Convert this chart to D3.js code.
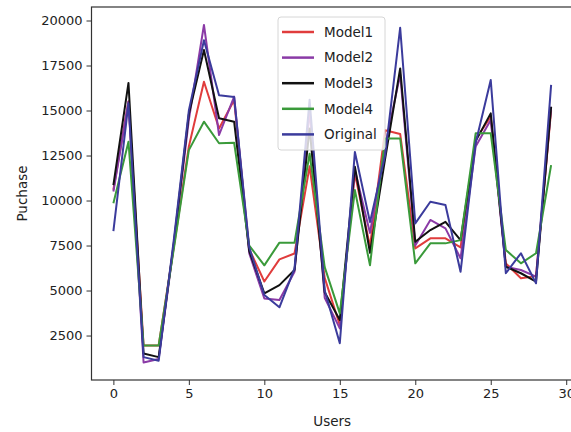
<!DOCTYPE html>
<html>
<head>
<meta charset="utf-8">
<script src="https://cdn.jsdelivr.net/npm/d3@7"></script>
<style>
  body { margin: 0; background: #fff; }
  #chart-container text { font-family: "DejaVu Sans", sans-serif; fill: #222; }
</style>
</head>
<body>
<div id="chart-container"></div>
<script>
// users on the x axis
const users = d3.range(0, 30);

const model1 = [10600, 15500, 1950, 1950, 7400, 13000, 16600, 14000, 15580, 7300,
  5500, 6730, 7060, 11900, 5700, 3080, 11500, 7450, 13900, 13700,
  7340, 7900, 7900, 7400, 13400, 14650, 6510, 5680, 5800, 15000];
const model2 = [10500, 15500, 1000, 1200, 7500, 14500, 19750, 13640, 15770, 7070,
  4560, 4470, 6040, 15000, 4600, 2900, 11700, 8200, 13000, 17000,
  7500, 8920, 8450, 6790, 13000, 14470, 6320, 6140, 5770, 15200];
const model3 = [10850, 16530, 1500, 1300, 7600, 14800, 18360, 14570, 14380, 7200,
  4840, 5300, 6140, 14000, 4900, 3360, 11880, 7100, 12300, 17340,
  7710, 8360, 8820, 7800, 13300, 14840, 6320, 5960, 5500, 15210];
const model4 = [9850, 13270, 1950, 1950, 7300, 12800, 14380, 13180, 13210, 7500,
  6400, 7660, 7660, 12600, 6300, 3730, 10580, 6400, 13450, 13450,
  6510, 7620, 7620, 7800, 13730, 13730, 7250, 6510, 7070, 11970];
const original = [8300, 15400, 1300, 1100, 7800, 15000, 18900, 15850, 15750, 7400,
  4750, 4070, 6230, 15600, 5000, 2070, 12700, 8800, 12500, 19600,
  8730, 9930, 9750, 6040, 13200, 16690, 5960, 7070, 5400, 16420];

const seriesNames = ['Model1', 'Model2', 'Model3', 'Model4', 'Original'];
const seriesColors = ['#e03c3c', '#8a3aa6', '#111111', '#3a9a3a', '#3b3b9c'];
const xTicks = [0, 5, 10, 15, 20, 25, 30];
const yTicks = [2500, 5000, 7500, 10000, 12500, 15000, 17500, 20000];

document.addEventListener('DOMContentLoaded', function() {
  drawLineChart();
});

function drawLineChart() {
  const margin = { top: 7, right: -2, bottom: 52, left: 91.5 };
  const width = 571 - margin.left - margin.right;
  const height = 432 - margin.top - margin.bottom;

  const series = [model1, model2, model3, model4, original];

  const svg = d3.select('#chart-container')
    .append('svg')
    .attr('width', 571)
    .attr('height', 432)
    .append('g')
    .attr('transform', `translate(${margin.left},${margin.top})`);

  const xScale = d3.scaleLinear()
    .domain([-1.45, 30.45])
    .range([0, width]);

  const yScale = d3.scaleLinear()
    .domain([30, 20750])
    .range([height, 0]);

  const line = d3.line()
    .x((d, i) => xScale(users[i]))
    .y(d => yScale(d));

  svg.selectAll('.series')
    .data(series)
    .enter().append('path')
    .attr('class', 'series')
    .attr('fill', 'none')
    .attr('stroke', (d, i) => seriesColors[i])
    .attr('stroke-width', 2)
    .attr('stroke-linejoin', 'round')
    .attr('d', line);

  const xAxis = svg.append('g')
    .attr('class', 'x-axis')
    .attr('transform', `translate(0,${height})`)
    .call(d3.axisBottom(xScale).tickValues(xTicks).tickSize(5).tickPadding(4));

  const yAxis = svg.append('g')
    .attr('class', 'y-axis')
    .call(d3.axisLeft(yScale).tickValues(yTicks).tickFormat(d3.format('d')).tickSize(5).tickPadding(4));

  [xAxis, yAxis].forEach(g => {
    g.select('.domain').remove();
    g.selectAll('line').attr('stroke', '#333');
    g.selectAll('text').style('font-size', '13px');
  });

  // frame
  svg.append('rect')
    .attr('width', width)
    .attr('height', height)
    .attr('fill', 'none')
    .attr('stroke', '#333')
    .attr('stroke-width', 1.2);

  svg.append('text')
    .attr('class', 'x-axis-label')
    .attr('x', xScale(14.5))
    .attr('y', height + 46)
    .style('text-anchor', 'middle')
    .style('font-size', '13.5px')
    .text('Users');

  svg.append('text')
    .attr('class', 'y-axis-label')
    .attr('transform', 'rotate(-90)')
    .attr('x', -height / 2)
    .attr('y', -margin.left + 27)
    .style('text-anchor', 'middle')
    .style('font-size', '13.5px')
    .text('Puchase');

  // legend
  const legend = svg.append('g')
    .attr('transform', `translate(${278 - margin.left},${17 - margin.top})`);

  legend.append('rect')
    .attr('width', 107)
    .attr('height', 133)
    .attr('rx', 3)
    .attr('fill', 'rgba(255,255,255,0.8)')
    .attr('stroke', '#d6d6d6');

  const items = legend.selectAll('.legend-item')
    .data(seriesNames)
    .enter().append('g')
    .attr('class', 'legend-item')
    .attr('transform', (d, i) => `translate(0,${15 + i * 25.6})`);

  items.append('line')
    .attr('x1', 4).attr('x2', 36)
    .attr('stroke', (d, i) => seriesColors[i])
    .attr('stroke-width', 2.5);

  items.append('text')
    .attr('x', 46)
    .attr('dy', '0.35em')
    .style('font-size', '13.5px')
    .text(d => d);
}
</script>
</body>
</html>
